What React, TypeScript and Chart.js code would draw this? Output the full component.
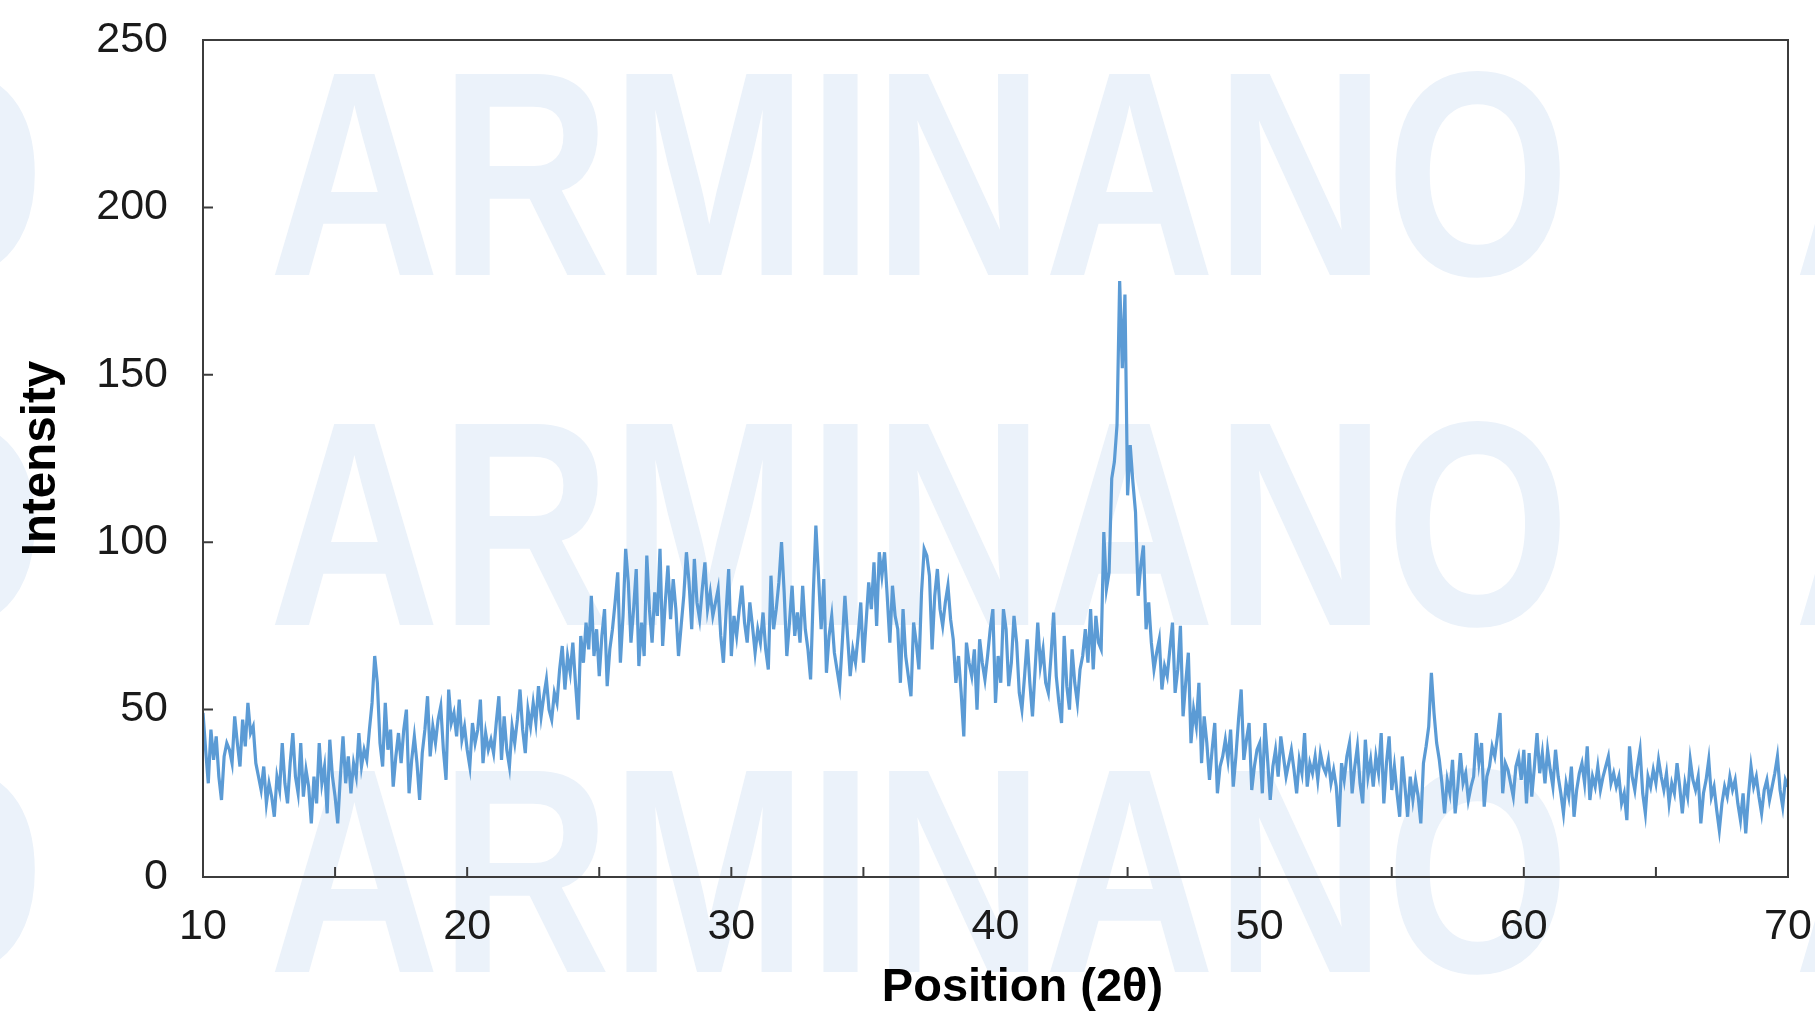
import React, { useEffect, useRef } from 'react';
import { Chart, registerables } from 'chart.js';

Chart.register(...registerables);

// Sampling grid of the scan (degrees 2θ)
const START_DEG = 10;
const STEP_DEG = 0.1;

// Intensity, one value every 0.1° (2θ)
const I_10_15 = [49, 38, 28, 44, 35, 42, 30, 23, 36, 40, 38, 34, 48, 40, 33, 47, 39, 52, 43, 45, 34, 30, 26, 33, 22, 28, 24, 18, 30, 26, 40, 28, 22, 34, 43, 30, 25, 40, 24, 32, 27, 16, 30, 22, 40, 28, 33, 19, 41, 30];
const I_15_20 = [24, 16, 30, 42, 28, 36, 25, 34, 30, 43, 33, 38, 35, 44, 52, 66, 58, 40, 33, 52, 38, 44, 27, 36, 43, 34, 44, 50, 25, 35, 42, 34, 23, 37, 44, 54, 36, 45, 40, 47, 51, 38, 29, 56, 46, 49, 42, 53, 41, 45];
const I_20_25 = [38, 33, 46, 40, 44, 53, 34, 43, 38, 41, 37, 46, 54, 35, 48, 38, 33, 45, 40, 47, 56, 44, 37, 50, 45, 52, 46, 57, 48, 54, 59, 50, 47, 55, 52, 62, 69, 56, 66, 61, 70, 58, 47, 72, 64, 76, 68, 84, 66, 74];
const I_25_30 = [60, 72, 80, 57, 68, 74, 82, 91, 64, 78, 98, 88, 70, 80, 92, 63, 76, 66, 96, 80, 70, 85, 78, 98, 69, 82, 93, 77, 89, 80, 66, 75, 84, 97, 88, 74, 95, 82, 77, 86, 94, 80, 85, 78, 82, 86, 72, 64, 79, 92];
const I_30_35 = [66, 78, 72, 80, 87, 76, 70, 82, 75, 67, 74, 70, 79, 68, 62, 90, 74, 80, 88, 100, 85, 66, 76, 87, 72, 79, 70, 87, 74, 68, 59, 84, 105, 90, 74, 89, 61, 72, 78, 67, 62, 57, 70, 84, 72, 60, 68, 64, 72, 82];
const I_35_40 = [64, 76, 88, 80, 94, 75, 97, 90, 97, 84, 70, 87, 78, 74, 58, 80, 66, 60, 54, 76, 70, 62, 85, 98, 96, 90, 68, 84, 92, 80, 75, 82, 87, 77, 71, 58, 66, 55, 42, 70, 64, 60, 68, 50, 71, 64, 59, 66, 74, 80];
const I_40_45 = [52, 66, 58, 80, 74, 57, 64, 78, 70, 55, 50, 60, 71, 58, 48, 62, 76, 63, 68, 58, 55, 66, 79, 60, 52, 46, 72, 57, 50, 68, 58, 52, 62, 66, 74, 64, 80, 62, 78, 70, 68, 103, 86, 91, 119, 124, 135, 178, 152, 174];
const I_45_50 = [114, 129, 118, 109, 84, 93, 99, 74, 82, 70, 62, 67, 71, 56, 63, 60, 68, 76, 55, 62, 75, 48, 58, 67, 40, 50, 45, 58, 34, 48, 40, 29, 38, 46, 25, 33, 36, 41, 35, 44, 27, 36, 47, 56, 35, 41, 46, 26, 33, 38];
const I_50_55 = [40, 25, 46, 35, 23, 33, 38, 30, 42, 36, 30, 34, 38, 32, 25, 35, 31, 43, 27, 34, 31, 36, 29, 37, 33, 31, 35, 28, 32, 27, 15, 34, 29, 36, 40, 25, 33, 39, 28, 22, 41, 30, 35, 27, 36, 31, 43, 22, 34, 42];
const I_55_60 = [26, 33, 25, 18, 36, 27, 18, 30, 23, 29, 24, 16, 34, 39, 45, 61, 49, 40, 35, 28, 19, 29, 25, 35, 19, 27, 37, 28, 31, 23, 27, 30, 43, 34, 40, 21, 30, 33, 39, 36, 42, 49, 25, 34, 32, 28, 24, 33, 36, 29];
const I_60_65 = [38, 22, 37, 24, 33, 43, 31, 37, 28, 38, 32, 27, 38, 30, 25, 19, 28, 24, 33, 18, 26, 31, 34, 28, 39, 23, 30, 27, 33, 26, 30, 33, 36, 28, 31, 27, 30, 22, 25, 17, 39, 30, 26, 33, 38, 25, 19, 30, 27, 32];
const I_65_70 = [28, 35, 30, 26, 31, 22, 28, 25, 34, 27, 19, 28, 24, 35, 29, 26, 30, 16, 25, 29, 35, 24, 27, 20, 14, 22, 27, 24, 30, 26, 29, 22, 17, 25, 13, 24, 33, 27, 30, 24, 19, 26, 29, 23, 27, 31, 36, 26, 21, 29, 27];

const X_TICKS = [10, 15, 20, 25, 30, 35, 40, 45, 50, 55, 60, 65, 70];
const X_LABELS = [10, 20, 30, 40, 50, 60, 70];
const Y_TICKS = [0, 50, 100, 150, 200, 250];
const X_TITLE = 'Position (2θ)';
const Y_TITLE = 'Intensity';
const WATERMARK = 'ARMINANO';

const INTENSITY = [
  ...I_10_15, ...I_15_20, ...I_20_25, ...I_25_30, ...I_30_35, ...I_35_40,
  ...I_40_45, ...I_45_50, ...I_50_55, ...I_55_60, ...I_60_65, ...I_65_70,
];

const FONT_FAMILY = '"Liberation Sans", Arial, Helvetica, sans-serif';
const W = 1815;
const H = 1018;

const backgroundPlugin = {
  id: 'bgWatermark',
  beforeDraw(chart: any) {
    const { ctx, width, height } = chart;
    ctx.save();
    ctx.fillStyle = '#ffffff';
    ctx.fillRect(0, 0, width, height);
    ctx.fillStyle = '#ebf2fa';
    ctx.font = `bold 292px ${FONT_FAMILY}`;
    ctx.textBaseline = 'alphabetic';
    ctx.textAlign = 'left';
    const baselines = [275, 625, 972];
    const starts = [269 - 1525, 269, 269 + 1525];
    for (const by of baselines) {
      for (const sx of starts) {
        ctx.save();
        ctx.translate(sx, by);
        ctx.scale(0.81, 1);
        ctx.fillText(WATERMARK, 0, 0);
        ctx.restore();
      }
    }
    ctx.restore();
  },
};

const framePlugin = {
  id: 'frameTicks',
  afterDraw(chart: any) {
    const { ctx, chartArea: a, scales } = chart;
    ctx.save();
    ctx.strokeStyle = '#3c3c3c';
    ctx.lineWidth = 2;
    ctx.strokeRect(a.left, a.top, a.right - a.left, a.bottom - a.top);
    ctx.beginPath();
    for (const v of X_TICKS) {
      const px = scales.x.getPixelForValue(v);
      ctx.moveTo(px, a.bottom);
      ctx.lineTo(px, a.bottom - 10);
    }
    for (const v of Y_TICKS) {
      const py = scales.y.getPixelForValue(v);
      ctx.moveTo(a.left, py);
      ctx.lineTo(a.left + 10, py);
    }
    ctx.stroke();
    // x-axis title, sitting slightly right of the plot centre as in the source
    ctx.fillStyle = '#000000';
    ctx.font = `bold 47px ${FONT_FAMILY}`;
    ctx.textAlign = 'center';
    ctx.textBaseline = 'middle';
    ctx.fillText(X_TITLE, (a.left + a.right) / 2 + 27, 988);
    ctx.restore();
  },
};

export default function App() {
  const canvasRef = useRef<HTMLCanvasElement | null>(null);

  useEffect(() => {
    if (!canvasRef.current) return;
    const points = INTENSITY.map((y, i) => ({ x: +(START_DEG + i * STEP_DEG).toFixed(1), y }));
    const chart = new Chart(canvasRef.current, {
      type: 'line',
      data: {
        datasets: [
          {
            data: points,
            borderColor: '#5b9bd5',
            borderWidth: 3.2,
            pointRadius: 0,
            tension: 0,
            fill: false,
          },
        ],
      },
      options: {
        animation: false,
        responsive: true,
        maintainAspectRatio: false,
        layout: { padding: { top: 40, right: 27, bottom: 0, left: 0 } },
        plugins: {
          legend: { display: false },
          tooltip: { enabled: false },
        },
        scales: {
          x: {
            type: 'linear',
            min: 10,
            max: 70,
            afterBuildTicks: (scale: any) => {
              scale.ticks = X_TICKS.map((value) => ({ value }));
            },
            afterFit: (scale: any) => {
              scale.height = H - 877;
              scale.paddingLeft = 0;
              scale.paddingRight = 0;
            },
            grid: { display: false, drawTicks: false },
            border: { display: false },
            ticks: {
              autoSkip: false,
              maxRotation: 0,
              padding: 24,
              color: '#1a1a1a',
              font: { family: FONT_FAMILY, size: 43 },
              callback: (value: any) => (X_LABELS.includes(Number(value)) ? String(value) : ''),
            },
            title: { display: false },
          },
          y: {
            min: 0,
            max: 250,
            afterBuildTicks: (scale: any) => {
              scale.ticks = Y_TICKS.map((value) => ({ value }));
            },
            afterFit: (scale: any) => {
              scale.width = 203;
              scale.paddingTop = 0;
              scale.paddingBottom = 0;
            },
            grid: { display: false, drawTicks: false },
            border: { display: false },
            ticks: {
              padding: 35,
              color: '#1a1a1a',
              font: { family: FONT_FAMILY, size: 43 },
            },
            title: {
              display: true,
              text: Y_TITLE,
              color: '#000000',
              font: { family: FONT_FAMILY, size: 47.5, weight: 'bold' },
              padding: { top: 13, bottom: 0 },
            },
          },
        },
      } as any,
      plugins: [backgroundPlugin, framePlugin],
    });
    return () => chart.destroy();
  }, []);

  return (
    <div style={{ position: 'fixed', left: 0, top: 0, width: W, height: H, background: '#ffffff' }}>
      <canvas ref={canvasRef} />
    </div>
  );
}
